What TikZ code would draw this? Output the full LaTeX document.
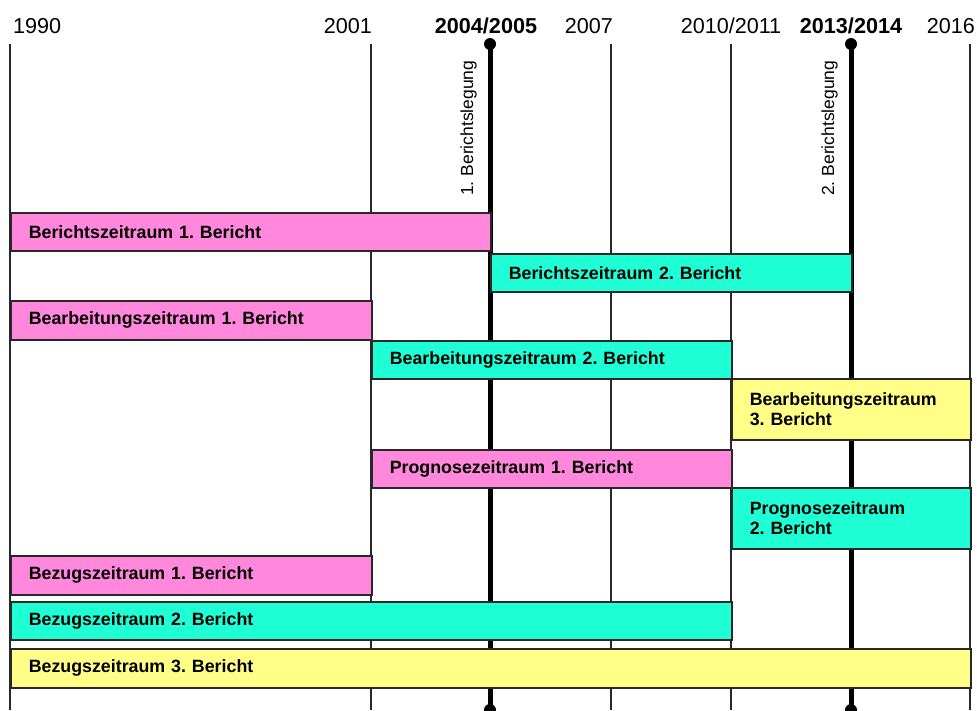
\documentclass[tikz,border=0pt]{standalone}
\usepackage{fontspec}
\setmainfont{Liberation Sans}
\frenchspacing

\definecolor{rosa}{RGB}{255,136,221}
\definecolor{tuerkis}{RGB}{30,255,214}
\definecolor{gelb}{RGB}{255,255,136}
\definecolor{linie}{RGB}{40,40,40}

\tikzset{
  gitter/.style={draw=linie, line width=1.4pt},
  stichtag/.style={draw=black, line width=5pt},
  jahr/.style={font=\fontsize{21.6}{24}\selectfont, inner sep=0pt},
  balken/.style={draw=linie, line width=1.6pt, anchor=north west, align=left,
    inner xsep=18pt, inner ysep=0pt, font=\fontsize{17.8}{20.5}\selectfont\bfseries},
  legung/.style={rotate=90, anchor=base west, inner sep=0pt,
    font=\fontsize{17.5}{20}\selectfont},
}

\begin{document}
\begin{tikzpicture}[x=1pt,y=1pt]
  \useasboundingbox (0,0) rectangle (977,-710);

  % Jahreszahlen
  \node[jahr, anchor=base west] (j1990) at (13,-33) {1990};
  \node[jahr, anchor=base east] (j2001) at (372,-33) {2001};
  \node[jahr, anchor=base, font=\fontsize{21.6}{24}\selectfont\bfseries] (j2004) at (486,-33) {2004/2005};
  \node[jahr, anchor=base east] (j2007) at (613,-33) {2007};
  \node[jahr, anchor=base] (j2010) at (731,-33) {2010/2011};
  \node[jahr, anchor=base, font=\fontsize{21.6}{24}\selectfont\bfseries] (j2013) at (851,-33) {2013/2014};
  \node[jahr, anchor=base east] (j2016) at (975,-33) {2016};

  % Gitterlinien
  \foreach \n/\x in {a/10,b/371,d/611,e/731,g/970} {
    \coordinate (\n o) at (\x,-44);
    \coordinate (\n u) at (\x,-710);
    \draw[gitter] (\n o) -- (\n u);
  }

  % Berichtslegungen
  \foreach \n/\x in {c/490,f/851} {
    \coordinate (\n o) at (\x,-44);
    \coordinate (\n u) at (\x,-710);
    \draw[stichtag] (\n o) -- (\n u);
    \fill (\n o) circle (6pt);
    \fill (\n u) circle (6pt);
  }
  \node[legung] (leg1) at (473,-196) {1. Berichtslegung};
  \node[legung] (leg2) at (834,-196) {2. Berichtslegung};

  % Zeitraeume
  \node[balken, fill=rosa, text width=444pt, minimum height=38pt] (bz1) at (10,-212) {Berichtszeitraum 1. Bericht};
  \node[balken, fill=tuerkis, text width=325pt, minimum height=38pt] (bz2) at (490,-253) {Berichtszeitraum 2. Bericht};
  \node[balken, fill=rosa, text width=325pt, minimum height=39pt] (ba1) at (10,-300) {Bearbeitungszeitraum 1. Bericht};
  \node[balken, fill=tuerkis, text width=324pt, minimum height=38pt] (ba2) at (371,-340) {Bearbeitungszeitraum 2. Bericht};
  \node[balken, fill=gelb, text width=203pt, minimum height=61pt] (ba3) at (731,-378) {Bearbeitungszeitraum\\3. Bericht};
  \node[balken, fill=rosa, text width=324pt, minimum height=38pt] (pz1) at (371,-449) {Prognosezeitraum 1. Bericht};
  \node[balken, fill=tuerkis, text width=203pt, minimum height=61pt] (pz2) at (731,-487) {Prognosezeitraum\\2. Bericht};
  \node[balken, fill=rosa, text width=325pt, minimum height=39pt] (rz1) at (10,-555) {Bezugszeitraum 1. Bericht};
  \node[balken, fill=tuerkis, text width=685pt, minimum height=38pt] (rz2) at (10,-601) {Bezugszeitraum 2. Bericht};
  \node[balken, fill=gelb, text width=924pt, minimum height=39pt] (rz3) at (10,-648) {Bezugszeitraum 3. Bericht};
\end{tikzpicture}
\end{document}
